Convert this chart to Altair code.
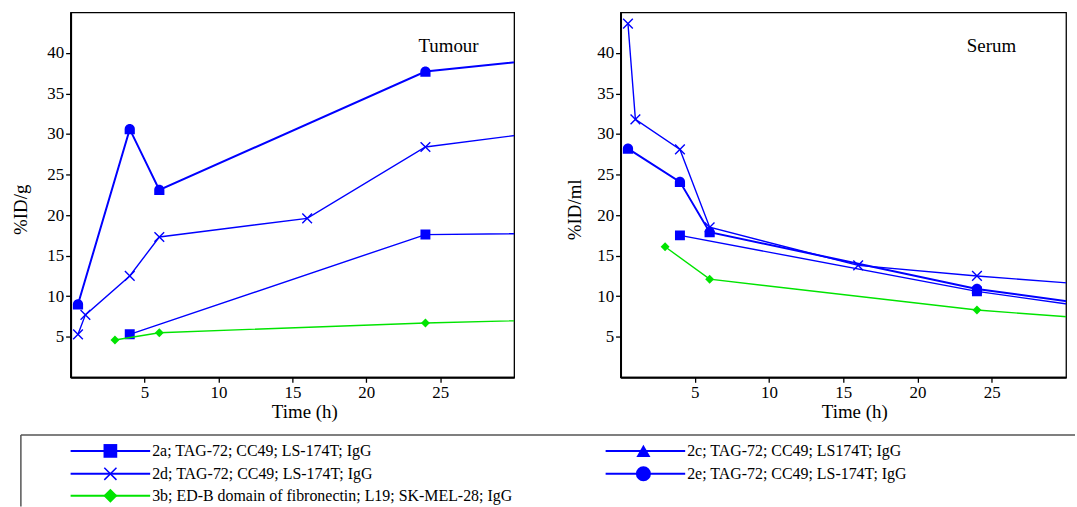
import altair as alt
import pandas as pd

# ---------------- data ----------------
# Tumour panel (%ID/g)
tum_2a_t = [4, 24, 48]
tum_2a_v = [5.3, 17.6, 18.0]
tum_2d_t = [0.5, 1, 4, 6, 16, 24, 48]
tum_2d_v = [5.3, 7.7, 12.5, 17.3, 19.6, 28.4, 34.0]
tum_2e_t = [0.5, 4, 6, 24, 48]
tum_2e_v = [9.0, 30.6, 23.1, 37.7, 42.3]
tum_3b_t = [3, 6, 24, 48]
tum_3b_v = [4.6, 5.5, 6.7, 7.8]

# Serum panel (%ID/ml)
ser_2a_t = [4, 24, 48]
ser_2a_v = [17.5, 10.6, 4.4]
ser_2d_t = [0.5, 1, 4, 6, 16, 24, 48]
ser_2d_v = [43.6, 31.8, 28.1, 18.5, 13.8, 12.5, 9.1]
ser_2e_t = [0.5, 4, 6, 24, 48]
ser_2e_v = [28.2, 24.1, 17.9, 10.9, 4.9]
ser_3b_t = [3, 6, 24, 48]
ser_3b_v = [16.1, 12.1, 8.3, 5.0]

x_ticks = [5, 10, 15, 20, 25]
y_ticks = [5, 10, 15, 20, 25, 30, 35, 40]

legend_labels = [
    "2a; TAG-72; CC49; LS-174T; IgG",
    "2c; TAG-72; CC49; LS174T; IgG",
    "2d; TAG-72; CC49; LS-174T; IgG",
    "2e; TAG-72; CC49; LS-174T; IgG",
    "3b; ED-B domain of fibronectin; L19; SK-MEL-28; IgG",
]

# ---------------- styles ----------------
BLUE = "#0000ff"
GREEN = "#00e400"
SERIF = "Liberation Serif"
X_SHAPE = "M-1,-1L1,1M-1,1L1,-1"
TOMB_SHAPE = "M-1,1L-1,0A1,1,0,0,1,1,0L1,1Z"

W_L, W_R, H = 446, 448, 367


def make_axes(ytitle, title_pad):
    xaxis = alt.Axis(values=x_ticks, title="Time (h)", grid=False, titleX=235,
                     titlePadding=2)
    yaxis = alt.Axis(values=y_ticks, title=ytitle, grid=False, titleY=198,
                     titlePadding=title_pad)
    return xaxis, yaxis


def series(t, v, color, shape, size, width, xaxis, yaxis, filled=True):
    df = pd.DataFrame({"t": t, "v": v})
    base = alt.Chart(df).encode(
        x=alt.X("t:Q", scale=alt.Scale(domain=[0, 30], nice=False, zero=False), axis=xaxis),
        y=alt.Y("v:Q", scale=alt.Scale(domain=[0, 45], nice=False, zero=False), axis=yaxis),
    )
    line = base.mark_line(color=color, strokeWidth=width, clip=True)
    pts = base.mark_point(shape=shape, size=size, filled=filled, color=color,
                          opacity=1, strokeWidth=1.4, clip=True)
    return [line, pts]


def panel(d2a, d2d, d2e, d3b, ytitle, title_pad):
    xaxis, yaxis = make_axes(ytitle, title_pad)
    layers = []
    layers += series(*d2a, BLUE, "square", 100, 1.4, xaxis, yaxis)
    layers += series(*d2d, BLUE, X_SHAPE, 95, 1.4, xaxis, yaxis, filled=False)
    layers += series(*d3b, GREEN, "diamond", 80, 1.4, xaxis, yaxis)
    layers += series(*d2e, BLUE, TOMB_SHAPE, 105, 2.0, xaxis, yaxis)
    return layers


def note(text, x, y):
    return alt.Chart(pd.DataFrame({"label": [text]})).mark_text(
        font=SERIF, fontSize=19, color="black", align="center", baseline="middle"
    ).encode(x=alt.value(x), y=alt.value(y), text="label:N")


# ---------------- legend (drawn in the left panel's coordinate frame) ----------------
one = pd.DataFrame({"k": [0]})
legend_layers = [
    alt.Chart(one).mark_rule(color="#555555", strokeWidth=1.5).encode(
        x=alt.value(-50), x2=alt.value(1010), y=alt.value(425)),
    alt.Chart(one).mark_rule(color="#555555", strokeWidth=1.5).encode(
        x=alt.value(-50), y=alt.value(425), y2=alt.value(497)),
]
leg_specs = [
    (legend_labels[0], BLUE, "square", 190, True, 0, 0),
    (legend_labels[1], BLUE, "triangle-up", 200, True, 1, 0),
    (legend_labels[2], BLUE, X_SHAPE, 150, False, 0, 1),
    (legend_labels[3], BLUE, "circle", 230, True, 1, 1),
    (legend_labels[4], GREEN, "diamond", 200, True, 0, 2),
]
row_y = [441, 464, 486]
col_line = [(0, 80), (538, 618)]
col_mark = [40, 576]
col_text = [82, 620]
for label, color, shape, size, filled, col, row in leg_specs:
    y = row_y[row]
    legend_layers.append(
        alt.Chart(one).mark_rule(color=color, strokeWidth=2).encode(
            x=alt.value(col_line[col][0]), x2=alt.value(col_line[col][1]), y=alt.value(y)))
    legend_layers.append(
        alt.Chart(one).mark_point(shape=shape, size=size, filled=filled, color=color,
                                  opacity=1, strokeWidth=1.5).encode(
            x=alt.value(col_mark[col]), y=alt.value(y)))
    legend_layers.append(
        alt.Chart(pd.DataFrame({"label": [label]})).mark_text(
            font=SERIF, fontSize=16, color="black", align="left", baseline="middle"
        ).encode(x=alt.value(col_text[col]), y=alt.value(y), text="label:N"))

left = alt.layer(
    *panel((tum_2a_t, tum_2a_v), (tum_2d_t, tum_2d_v), (tum_2e_t, tum_2e_v),
           (tum_3b_t, tum_3b_v), "%ID/g", 16),
    note("Tumour", 380, 34),
    *legend_layers,
).properties(width=W_L, height=H)

right = alt.layer(
    *panel((ser_2a_t, ser_2a_v), (ser_2d_t, ser_2d_v), (ser_2e_t, ser_2e_v),
           (ser_3b_t, ser_3b_v), "%ID/ml", 12),
    note("Serum", 373, 34),
).properties(width=W_R, height=H)

chart = alt.hconcat(left, right, spacing=107, bounds="flush").properties(
    padding={"left": 11, "top": 10, "right": 0, "bottom": 0},
    background="white",
).configure_view(
    stroke="black", strokeWidth=1.3
).configure_axis(
    labelFont=SERIF, labelFontSize=17, labelColor="black", labelPadding=2,
    titleFont=SERIF, titleFontSize=19, titleFontWeight="normal", titleColor="black",
    tickColor="black", tickSize=5, tickWidth=1.3,
    domainColor="black", domainWidth=2,
)

chart.save("out.html", embed_options={"renderer": "svg", "actions": False})
